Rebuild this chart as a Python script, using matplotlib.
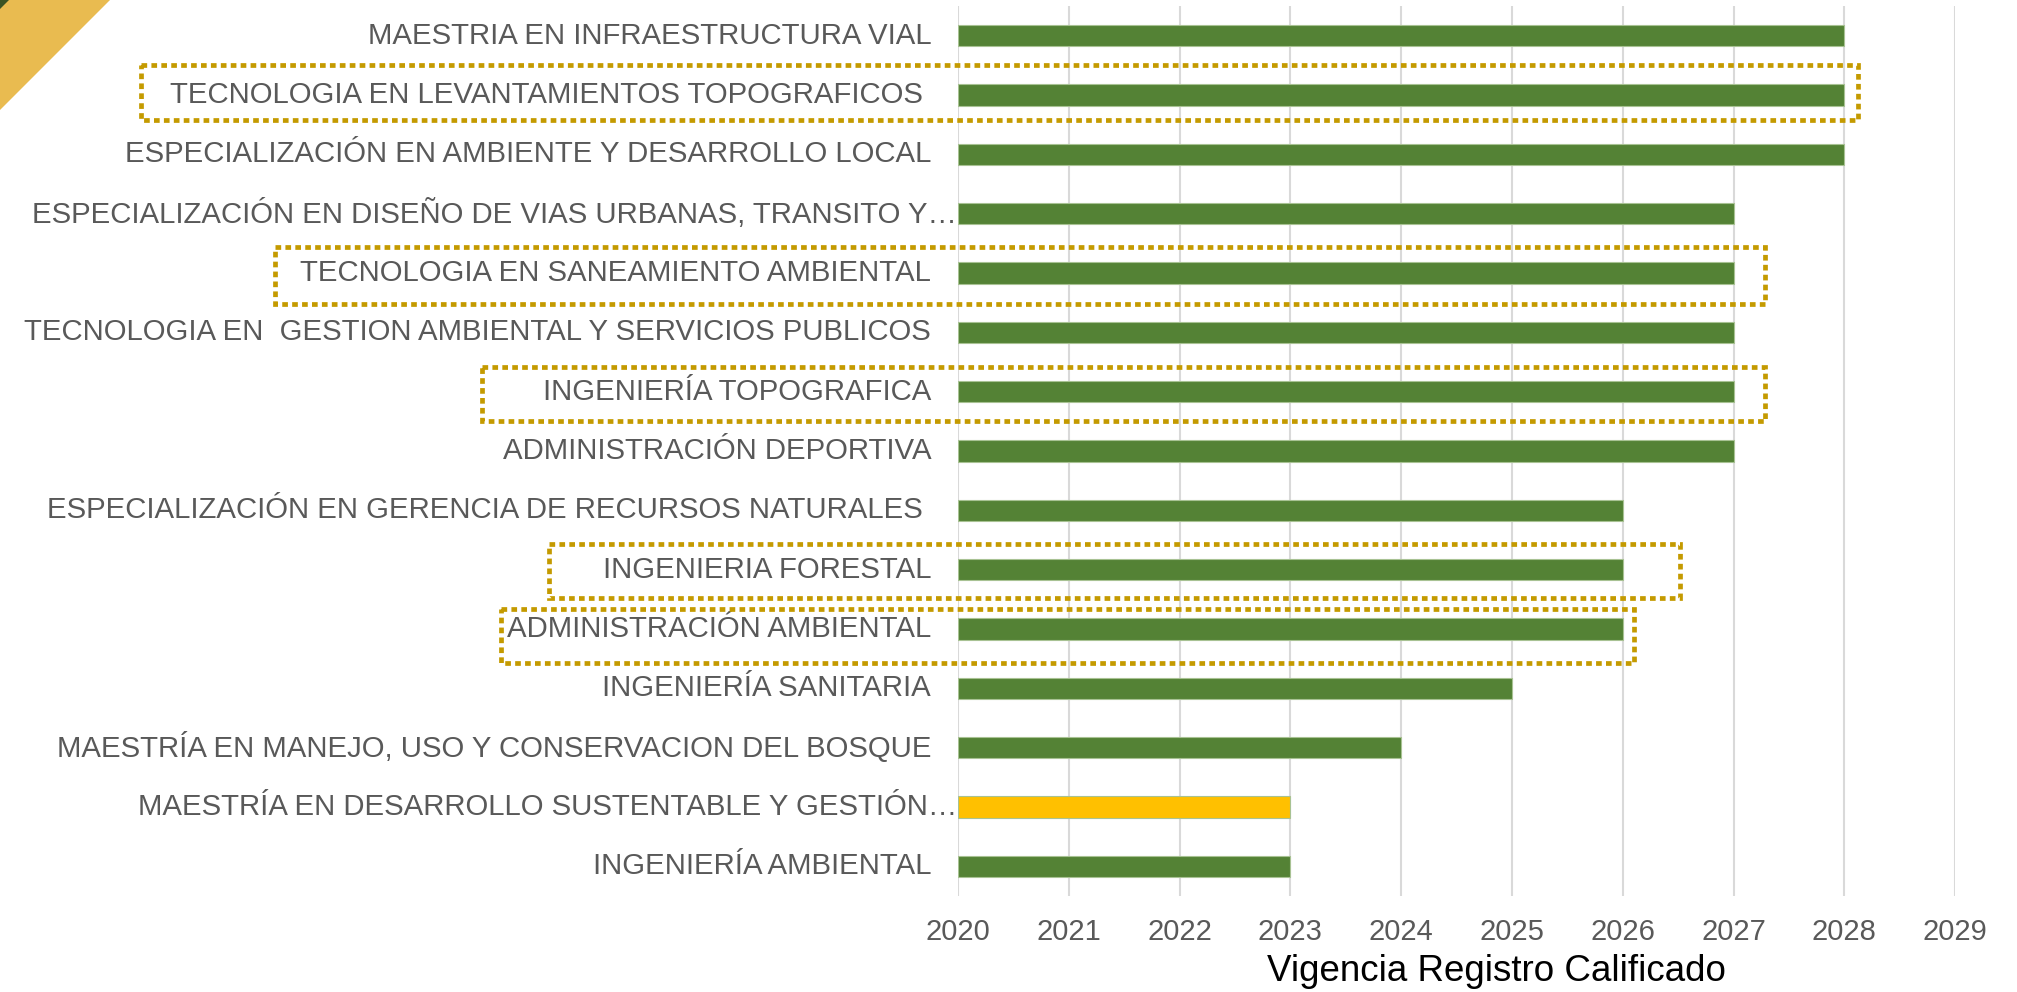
import numpy as np
import matplotlib.pyplot as plt
from matplotlib.patches import Polygon, Rectangle

plt.rcParams['font.family'] = ['Liberation Sans', 'DejaVu Sans']

# programas, de arriba hacia abajo
programas = [
    'MAESTRIA EN INFRAESTRUCTURA VIAL',
    'TECNOLOGIA EN LEVANTAMIENTOS TOPOGRAFICOS ',
    'ESPECIALIZACIÓN EN AMBIENTE Y DESARROLLO LOCAL',
    'ESPECIALIZACIÓN EN DISEÑO DE VIAS URBANAS, TRANSITO Y…',
    'TECNOLOGIA EN SANEAMIENTO AMBIENTAL',
    'TECNOLOGIA EN  GESTION AMBIENTAL Y SERVICIOS PUBLICOS',
    'INGENIERÍA TOPOGRAFICA',
    'ADMINISTRACIÓN DEPORTIVA',
    'ESPECIALIZACIÓN EN GERENCIA DE RECURSOS NATURALES ',
    'INGENIERIA FORESTAL',
    'ADMINISTRACIÓN AMBIENTAL',
    'INGENIERÍA SANITARIA',
    'MAESTRÍA EN MANEJO, USO Y CONSERVACION DEL BOSQUE',
    'MAESTRÍA EN DESARROLLO SUSTENTABLE Y GESTIÓN…',
    'INGENIERÍA AMBIENTAL',
]
vigencia = [2028, 2028, 2028, 2027, 2027, 2027, 2027, 2027,
            2026, 2026, 2026, 2025, 2024, 2023, 2023]
resaltado = [13]   # barra en amarillo
anios = list(range(2020, 2030))

# recuadros punteados: (fila, x izq, x der, arriba, abajo)
recuadros = [
    (1, 2012.62, 2028.12, -0.51, 0.42),
    (4, 2013.83, 2027.28, -0.44, 0.52),
    (6, 2015.70, 2027.28, -0.42, 0.50),
    (9, 2016.31, 2026.52, -0.44, 0.47),
    (10, 2015.87, 2026.10, -0.34, 0.57),
]

verde = '#548235'
amarillo = '#FFC000'
dorado = '#C49A00'
gris = '#595959'

fig = plt.figure(figsize=(20.17, 9.92), dpi=100)
ax = fig.add_axes([0.4750, 0.0968, 0.9693 - 0.4750, 0.9940 - 0.0968])

y = np.arange(len(programas))
colores = [amarillo if i in resaltado else verde for i in range(len(programas))]
ax.barh(y, np.array(vigencia) - 2020, left=2020, height=0.36,
        color=colores, edgecolor='#A8C293', linewidth=0.8, zorder=3)

ax.set_xlim(2020, 2029)
ax.set_ylim(len(programas) - 0.5, -0.5)
ax.set_xticks(anios)
ax.set_xticklabels([str(a) for a in anios])
ax.set_yticks([])
ax.grid(axis='x', color='#D9D9D9', linewidth=1.5, zorder=0)
for s in ax.spines.values():
    s.set_visible(False)
ax.tick_params(axis='x', length=0, pad=15.5, labelsize=21, labelcolor=gris)

# etiquetas de programas
tr = ax.get_yaxis_transform()
for i, nombre in enumerate(programas):
    xx = -0.001 if nombre.endswith('…') else -0.027
    ax.text(xx, i, nombre, transform=tr, ha='right', va='center',
            fontsize=21.2, color=gris)

for fila, x0, x1, arriba, abajo in recuadros:
    r = Rectangle((x0, fila + arriba), x1 - x0, abajo - arriba, fill=False,
                  edgecolor=dorado, linewidth=3.4, linestyle=(0, (1.2, 0.9)),
                  clip_on=False, zorder=5)
    ax.add_patch(r)

fig.text(1496 / 2017, 1 - 981 / 992, 'Vigencia Registro Calificado',
         ha='center', va='baseline', fontsize=26.5, color='black')

# triangulo decorativo
fig.patches.append(Polygon([(0, 1), (110 / 2017, 1), (0, 1 - 110 / 992)],
                           closed=True, transform=fig.transFigure,
                           facecolor='#E9BB50', edgecolor='none'))
fig.patches.append(Polygon([(0, 1), (9 / 2017, 1), (0, 1 - 9 / 992)],
                           closed=True, transform=fig.transFigure,
                           facecolor='#3B5323', edgecolor='none'))

fig.savefig('out.png', dpi=100)
